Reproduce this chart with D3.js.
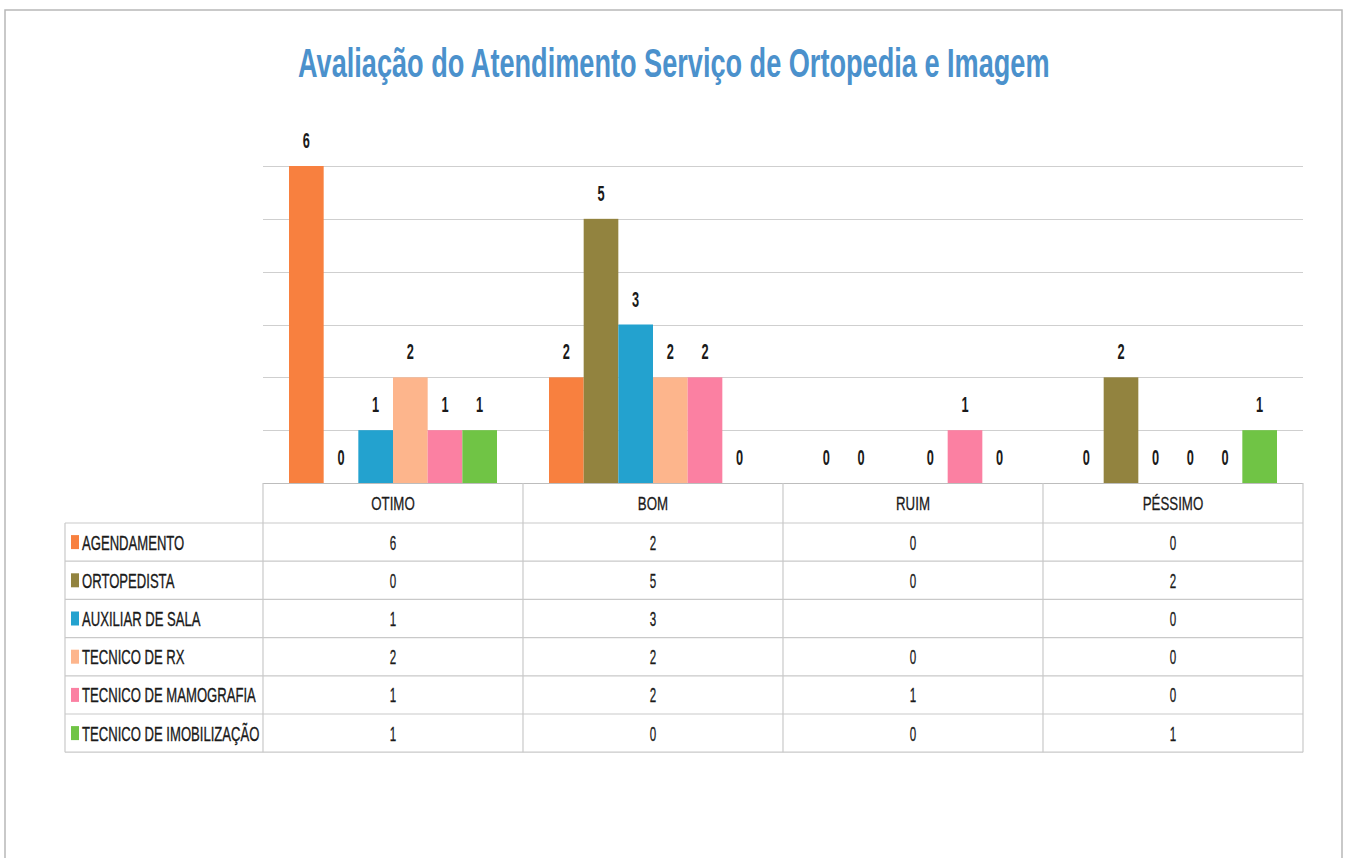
<!DOCTYPE html>
<html><head><meta charset="utf-8">
<script src="https://cdn.jsdelivr.net/npm/d3@7/dist/d3.min.js"></script>
<style>html,body{margin:0;padding:0;background:#fff;}svg{display:block;}</style>
</head><body>
<script>
const title = "Avaliação do Atendimento Serviço de Ortopedia e Imagem";
const categories = ["OTIMO", "BOM", "RUIM", "PÉSSIMO"];
const seriesNames = ["AGENDAMENTO", "ORTOPEDISTA", "AUXILIAR DE SALA", "TECNICO DE RX", "TECNICO DE MAMOGRAFIA", "TECNICO DE IMOBILIZAÇÃO"];
const agendamento = [6, 2, 0, 0];
const ortopedista = [0, 5, 0, 2];
const auxiliarDeSala = [1, 3, null, 0];
const tecnicoDeRx = [2, 2, 0, 0];
const tecnicoDeMamografia = [1, 2, 1, 0];
const tecnicoDeImobilizacao = [1, 0, 0, 1];
const seriesColors = ["#F8803F", "#92833F", "#23A2CF", "#FDB58C", "#FB80A2", "#70C445"];
const yTicks = [0, 1, 2, 3, 4, 5, 6];

const seriesValues = [agendamento, ortopedista, auxiliarDeSala, tecnicoDeRx, tecnicoDeMamografia, tecnicoDeImobilizacao];

const W = 1349, H = 858;
const svg = d3.select("body").append("svg").attr("width", W).attr("height", H);

// scanned page frame
svg.append("path").attr("d", `M5,${H} L5,10 L1342,10 L1342,${H}`)
  .attr("fill", "none").attr("stroke", "#b8b8b8").attr("stroke-width", 1.5);

const plotL = 263, plotR = 1303, plotT = 166, plotB = 483;
const x0 = d3.scaleBand().domain(categories).range([plotL, plotR]).paddingInner(0).paddingOuter(0);
const groupPad = 26;
const x1 = d3.scaleBand().domain(seriesNames).range([groupPad, x0.bandwidth() - groupPad]).padding(0);
const y = d3.scaleLinear().domain([0, 6]).range([plotB, plotT]);

// gridlines
svg.append("g").selectAll("line").data(yTicks.filter(d => d > 0)).join("line")
  .attr("x1", plotL).attr("x2", plotR)
  .attr("y1", d => Math.round(y(d)) + 0.5).attr("y2", d => Math.round(y(d)) + 0.5)
  .attr("stroke", "#cfcfcf").attr("stroke-width", 1.2);

// title (condensed to fit the reference width)
const tt = svg.append("text")
  .attr("font-family", "Liberation Sans, Arial, sans-serif").attr("font-weight", "bold")
  .attr("font-size", 40).attr("fill", "#4B91CC").text(title);
const natural = tt.node().getComputedTextLength();
tt.attr("transform", `translate(298,77) scale(${752 / natural},1)`);

// helper for condensed text
function ctext(g, x, yy, txt, size, sx, anchor, fill, weight, sw) {
  const t = g.append("text")
    .attr("transform", `translate(${x},${yy}) scale(${sx},1)`)
    .attr("text-anchor", anchor || "middle")
    .attr("font-family", "Liberation Sans, Arial, sans-serif")
    .attr("font-size", size).attr("font-weight", weight || "normal")
    .attr("fill", fill || "#1a1a1a").text(txt);
  if (sw) t.attr("stroke", fill || "#1a1a1a").attr("stroke-width", sw);
}

// bars
const data = [];
categories.forEach((c, ci) => seriesNames.forEach((s, si) => data.push({c, s, si, v: seriesValues[si][ci]})));
const gBars = svg.append("g");
gBars.selectAll("rect").data(data.filter(d => d.v !== null && d.v > 0)).join("rect")
  .attr("x", d => x0(d.c) + x1(d.s)).attr("width", x1.bandwidth())
  .attr("y", d => y(d.v)).attr("height", d => y(0) - y(d.v))
  .attr("fill", d => seriesColors[d.si]);

// data labels
const gLab = svg.append("g");
data.filter(d => d.v !== null).forEach(d => {
  ctext(gLab, x0(d.c) + x1(d.s) + x1.bandwidth() / 2, y(d.v) - 18, String(d.v), 22, 0.58, "middle", "#1a1a1a", "bold");
});

// data table
const tblL = 65, rowH = 38.2, headT = plotB, headB = 523;
const tbl = svg.append("g");
const lineCol = "#c9c9c9";
tbl.append("line").attr("x1", plotL).attr("x2", plotR).attr("y1", headT + 0.5).attr("y2", headT + 0.5)
  .attr("stroke", "#bdbdbd").attr("stroke-width", 1.2);
const rowYs = d3.range(seriesNames.length + 1).map(i => headB + i * rowH);
tbl.selectAll("line.h").data(rowYs).join("line").attr("class", "h")
  .attr("x1", tblL).attr("x2", plotR).attr("y1", d => d).attr("y2", d => d)
  .attr("stroke", lineCol).attr("stroke-width", 1.2);
const colXs = categories.map(c => x0(c)).concat([plotR]);
tbl.selectAll("line.v").data(colXs).join("line").attr("class", "v")
  .attr("x1", d => d).attr("x2", d => d).attr("y1", headT).attr("y2", rowYs[rowYs.length - 1])
  .attr("stroke", lineCol).attr("stroke-width", 1.2);
tbl.append("line").attr("x1", tblL).attr("x2", tblL).attr("y1", headB).attr("y2", rowYs[rowYs.length - 1])
  .attr("stroke", lineCol).attr("stroke-width", 1.2);

// headers
categories.forEach(c => ctext(tbl, x0(c) + x0.bandwidth() / 2, 510, c, 19, 0.7, "middle", "#1a1a1a", "normal", 0.3));

// rows
seriesNames.forEach((s, si) => {
  const cy = headB + si * rowH + rowH / 2;
  tbl.append("rect").attr("x", 71).attr("y", cy - 7).attr("width", 8).attr("height", 14).attr("fill", seriesColors[si]);
  ctext(tbl, 82, cy + 7.5, s, 20, 0.655, "start", "#1a1a1a", "normal", 0.35);
  categories.forEach((c, ci) => {
    const v = seriesValues[si][ci];
    if (v !== null) ctext(tbl, x0(c) + x0.bandwidth() / 2, cy + 7.5, String(v), 20, 0.58, "middle", "#1a1a1a", "normal", 0.3);
  });
});
</script>
</body></html>
